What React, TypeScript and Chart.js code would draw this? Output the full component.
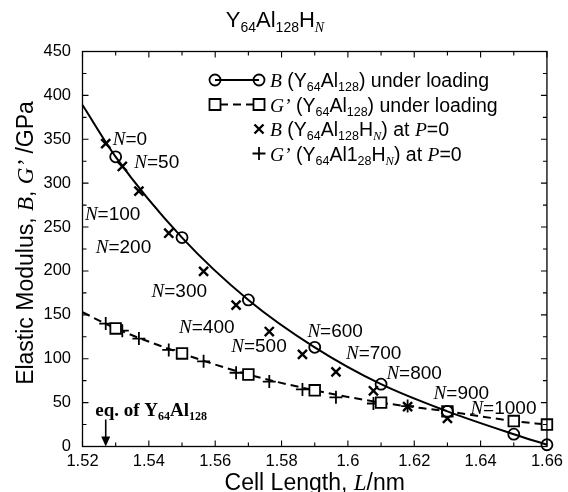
import React, { useEffect, useRef } from "react";
import { Chart, registerables } from "chart.js";

Chart.register(...registerables);

// ---- data ----
// curve under loading (Y64Al128)
const curveStartL = 1.52;
const curveStartB = 389;
const curveStartG = 153;
const loadL = [1.53, 1.55, 1.57, 1.59, 1.61, 1.63, 1.65, 1.66];
const loadB = [330, 238, 167, 113, 71, 40, 14, 2];
const loadG = [134.5, 106, 82, 64, 50, 40, 29, 25];

// hydrogenated Y64Al128HN at P=0
const hN = [0, 50, 100, 200, 300, 400, 500, 600, 700, 800, 900, 1000];
const hL = [1.527, 1.532, 1.537, 1.546, 1.5565, 1.5663, 1.5763, 1.5863, 1.5964, 1.6077, 1.618, 1.63];
const hB = [345, 319, 291, 243, 199.5, 161, 131, 105, 85, 63.5, 45.5, 32];
const hG = [140, 132, 123, 110, 97, 84, 74, 65, 56, 49, 46, 38];

const eqL = 1.527;

const xTicks = [1.52, 1.54, 1.56, 1.58, 1.6, 1.62, 1.64, 1.66];
const xTickLabels = ["1.52", "1.54", "1.56", "1.58", "1.6", "1.62", "1.64", "1.66"];
const yTicks = [0, 50, 100, 150, 200, 250, 300, 350, 400, 450];
const yTickLabels = ["0", "50", "100", "150", "200", "250", "300", "350", "400", "450"];

// label offsets (pixels) for the N= annotations, relative to each B marker
const labelDx = [7, 12, -54, -73, -52, -57, -38, 5, 10, 13, 26, 23];
const labelDy = [-6, -5, 22, 13, 19, 21, 13, -24, -20, -19, -15, -11];

const SANS = '"Liberation Sans", Arial, Helvetica, sans-serif';
const SERIF = '"Liberation Serif", "Times New Roman", serif';

type Run = { t: string; font: string; dy?: number };

function drawRuns(ctx: CanvasRenderingContext2D, runs: Run[], x: number, y: number, align: "left" | "center" | "right" = "left") {
  ctx.save();
  ctx.textBaseline = "alphabetic";
  ctx.textAlign = "left";
  ctx.fillStyle = "#000";
  let total = 0;
  const widths = runs.map((r) => {
    ctx.font = r.font;
    const w = ctx.measureText(r.t).width;
    total += w;
    return w;
  });
  let cx = align === "left" ? x : align === "center" ? x - total / 2 : x - total;
  runs.forEach((r, i) => {
    ctx.font = r.font;
    ctx.fillText(r.t, cx, y + (r.dy || 0));
    cx += widths[i];
  });
  ctx.restore();
  return total;
}

function marker(ctx: CanvasRenderingContext2D, kind: string, x: number, y: number) {
  ctx.save();
  ctx.strokeStyle = "#000";
  ctx.setLineDash([]);
  ctx.beginPath();
  if (kind === "circle") {
    ctx.lineWidth = 1.8;
    ctx.arc(x, y, 5.5, 0, Math.PI * 2);
  } else if (kind === "rect") {
    ctx.lineWidth = 1.8;
    ctx.rect(x - 5.5, y - 5.5, 11, 11);
  } else if (kind === "x") {
    ctx.lineWidth = 2.4;
    ctx.moveTo(x - 4.5, y - 4.5);
    ctx.lineTo(x + 4.5, y + 4.5);
    ctx.moveTo(x - 4.5, y + 4.5);
    ctx.lineTo(x + 4.5, y - 4.5);
  } else {
    ctx.lineWidth = 1.8;
    ctx.moveTo(x - 6.5, y);
    ctx.lineTo(x + 6.5, y);
    ctx.moveTo(x, y - 6.5);
    ctx.lineTo(x, y + 6.5);
  }
  ctx.stroke();
  ctx.restore();
}

const decorPlugin = {
  id: "decor",
  afterDraw(chart: any) {
    const ctx: CanvasRenderingContext2D = chart.ctx;
    const { left, right, top, bottom } = chart.chartArea;
    const xs = chart.scales.x;
    const ys = chart.scales.y;

    // frame
    ctx.save();
    ctx.strokeStyle = "#000";
    ctx.lineWidth = 1.3;
    ctx.strokeRect(left, top, right - left, bottom - top);

    // ticks
    const xMinor = xTicks.slice(0, -1).map((v, i) => (v + xTicks[i + 1]) / 2);
    const yMinor = yTicks.slice(0, -1).map((v, i) => (v + yTicks[i + 1]) / 2);
    ctx.lineWidth = 1.1;
    ctx.beginPath();
    xTicks.forEach((v) => {
      const p = xs.getPixelForValue(v);
      ctx.moveTo(p, bottom); ctx.lineTo(p, bottom - 6);
      ctx.moveTo(p, top); ctx.lineTo(p, top + 6);
    });
    xMinor.forEach((v) => {
      const p = xs.getPixelForValue(v);
      ctx.moveTo(p, bottom); ctx.lineTo(p, bottom - 4);
      ctx.moveTo(p, top); ctx.lineTo(p, top + 4);
    });
    yTicks.forEach((v) => {
      const p = ys.getPixelForValue(v);
      ctx.moveTo(left, p); ctx.lineTo(left + 6, p);
      ctx.moveTo(right, p); ctx.lineTo(right - 6, p);
    });
    yMinor.forEach((v) => {
      const p = ys.getPixelForValue(v);
      ctx.moveTo(left, p); ctx.lineTo(left + 4, p);
      ctx.moveTo(right, p); ctx.lineTo(right - 4, p);
    });
    ctx.stroke();
    ctx.restore();

    // title
    drawRuns(ctx, [
      { t: "Y", font: `22px ${SANS}` },
      { t: "64", font: `14px ${SANS}`, dy: 5 },
      { t: "Al", font: `22px ${SANS}` },
      { t: "128", font: `14px ${SANS}`, dy: 5 },
      { t: "H", font: `22px ${SANS}` },
      { t: "N", font: `italic 14px ${SERIF}`, dy: 5 },
    ], 275, 27, "center");

    // x title
    drawRuns(ctx, [
      { t: "Cell Length, ", font: `23px ${SANS}` },
      { t: "L", font: `italic 23px ${SERIF}` },
      { t: "/nm", font: `23px ${SANS}` },
    ], (left + right) / 2, 490, "center");

    // y title
    ctx.save();
    ctx.translate(33, (top + bottom) / 2 - 6);
    ctx.rotate(-Math.PI / 2);
    drawRuns(ctx, [
      { t: "Elastic Modulus, ", font: `23px ${SANS}` },
      { t: "B", font: `italic 23px ${SERIF}` },
      { t: ", ", font: `23px ${SANS}` },
      { t: "G\u2019", font: `italic 23px ${SERIF}` },
      { t: " /GPa", font: `23px ${SANS}` },
    ], 0, 0, "center");
    ctx.restore();

    // legend
    const lx1 = 215, lx2 = 259, tx = 270;
    const rows = [80, 104.5, 129, 153.5];
    const fs = 19.5;
    const sub = 12.5;
    ctx.save();
    ctx.strokeStyle = "#000";
    ctx.lineWidth = 2;
    ctx.beginPath();
    ctx.moveTo(lx1, rows[0]); ctx.lineTo(lx2, rows[0]);
    ctx.stroke();
    ctx.setLineDash([8, 5]);
    ctx.beginPath();
    ctx.moveTo(lx1 + 5, rows[1]); ctx.lineTo(lx2, rows[1]);
    ctx.stroke();
    ctx.restore();
    marker(ctx, "circle", lx1, rows[0]);
    marker(ctx, "circle", lx2, rows[0]);
    marker(ctx, "rect", lx1, rows[1]);
    marker(ctx, "rect", lx2, rows[1]);
    marker(ctx, "x", lx2, rows[2]);
    marker(ctx, "plus", lx2, rows[3]);
    const S = `${fs}px ${SANS}`;
    const I = `italic ${fs}px ${SERIF}`;
    const SS = `${sub}px ${SANS}`;
    const SI = `italic ${sub}px ${SERIF}`;
    const bl = 7;
    drawRuns(ctx, [
      { t: "B", font: I }, { t: " (Y", font: S }, { t: "64", font: SS, dy: 4 }, { t: "Al", font: S },
      { t: "128", font: SS, dy: 4 }, { t: ") under loading", font: S },
    ], tx, rows[0] + bl);
    drawRuns(ctx, [
      { t: "G\u2019", font: I }, { t: " (Y", font: S }, { t: "64", font: SS, dy: 4 }, { t: "Al", font: S },
      { t: "128", font: SS, dy: 4 }, { t: ") under loading", font: S },
    ], tx, rows[1] + bl);
    drawRuns(ctx, [
      { t: "B", font: I }, { t: " (Y", font: S }, { t: "64", font: SS, dy: 4 }, { t: "Al", font: S },
      { t: "128", font: SS, dy: 4 }, { t: "H", font: S }, { t: "N", font: SI, dy: 4 },
      { t: ") at ", font: S }, { t: "P", font: I }, { t: "=0", font: S },
    ], tx, rows[2] + bl);
    drawRuns(ctx, [
      { t: "G\u2019", font: I }, { t: " (Y", font: S }, { t: "64", font: SS, dy: 4 }, { t: "Al1", font: S },
      { t: "28", font: SS, dy: 4 }, { t: "H", font: S }, { t: "N", font: SI, dy: 4 },
      { t: ") at ", font: S }, { t: "P", font: I }, { t: "=0", font: S },
    ], tx, rows[3] + bl);

    // N= labels
    hN.forEach((n, i) => {
      const px = xs.getPixelForValue(hL[i]) + labelDx[i];
      const py = ys.getPixelForValue(hB[i]) + labelDy[i];
      drawRuns(ctx, [
        { t: "N", font: `italic 19px ${SERIF}` },
        { t: "=" + n, font: `19px ${SANS}` },
      ], px, py + 7);
    });

    // equilibrium arrow
    const ax = xs.getPixelForValue(eqL);
    ctx.save();
    ctx.strokeStyle = "#000";
    ctx.fillStyle = "#000";
    ctx.lineWidth = 1.6;
    ctx.beginPath();
    ctx.moveTo(ax, bottom - 27);
    ctx.lineTo(ax, bottom - 8);
    ctx.stroke();
    ctx.beginPath();
    ctx.moveTo(ax - 4.5, bottom - 10);
    ctx.lineTo(ax + 4.5, bottom - 10);
    ctx.lineTo(ax, bottom);
    ctx.closePath();
    ctx.fill();
    ctx.restore();
    drawRuns(ctx, [
      { t: "eq. of Y", font: `bold 19px ${SERIF}` },
      { t: "64", font: `bold 12px ${SERIF}`, dy: 4 },
      { t: "Al", font: `bold 19px ${SERIF}` },
      { t: "128", font: `bold 12px ${SERIF}`, dy: 4 },
    ], ax - 10.5, bottom - 31);
  },
};

export default function App() {
  const canvasRef = useRef<HTMLCanvasElement | null>(null);

  useEffect(() => {
    document.body.style.margin = "0";
    const canvas = canvasRef.current;
    if (!canvas) return;

    const bLine = [{ x: curveStartL, y: curveStartB }, ...loadL.map((l, i) => ({ x: l, y: loadB[i] }))];
    const gLine = [{ x: curveStartL, y: curveStartG }, ...loadL.map((l, i) => ({ x: l, y: loadG[i] }))];
    const hBPts = hL.map((l, i) => ({ x: l, y: hB[i] }));
    const hGPts = hL.map((l, i) => ({ x: l, y: hG[i] }));

    const chart = new Chart(canvas, {
      type: "line",
      data: {
        datasets: [
          {
            label: "B under loading",
            data: bLine,
            borderColor: "#000",
            borderWidth: 2,
            cubicInterpolationMode: "monotone",
            pointStyle: "circle",
            pointRadius: (c: any) => (c.dataIndex === 0 ? 0 : 5.5),
            pointBorderWidth: 1.8,
            pointBorderColor: "#000",
            pointBackgroundColor: "rgba(0,0,0,0)",
            clip: false,
          } as any,
          {
            label: "G under loading",
            data: gLine,
            borderColor: "#000",
            borderWidth: 2,
            borderDash: [8, 5],
            cubicInterpolationMode: "monotone",
            pointStyle: "rect",
            pointRadius: (c: any) => (c.dataIndex === 0 ? 0 : 7.5),
            pointBorderWidth: 1.8,
            pointBorderColor: "#000",
            pointBackgroundColor: "#fff",
            clip: false,
          } as any,
          {
            label: "B hydrogenated",
            data: hBPts,
            showLine: false,
            pointStyle: "crossRot",
            pointRadius: 6.4,
            pointBorderWidth: 2.4,
            pointBorderColor: "#000",
            borderColor: "#000",
            clip: false,
          } as any,
          {
            label: "G hydrogenated",
            data: hGPts,
            showLine: false,
            pointStyle: "cross",
            pointRadius: 6.5,
            pointBorderWidth: 1.8,
            pointBorderColor: "#000",
            borderColor: "#000",
            clip: false,
          } as any,
        ],
      },
      options: {
        animation: false,
        responsive: true,
        maintainAspectRatio: false,
        devicePixelRatio: 1,
        layout: { padding: { top: 51.5, right: 18, left: 0, bottom: 0 } },
        plugins: {
          legend: { display: false },
          title: { display: false },
          tooltip: { enabled: false },
        },
        scales: {
          x: {
            type: "linear",
            min: 1.52,
            max: 1.66,
            grid: { display: false, drawTicks: false },
            border: { display: false },
            afterBuildTicks: (s: any) => {
              s.ticks = xTicks.map((v) => ({ value: v }));
            },
            afterFit: (s: any) => {
              s.height = 45.5;
            },
            ticks: {
              padding: 5,
              autoSkip: false,
              maxRotation: 0,
              color: "#000",
              font: { family: SANS, size: 16.5 },
              callback: (_v: any, i: number) => xTickLabels[i],
            },
          },
          y: {
            type: "linear",
            min: 0,
            max: 450,
            grid: { display: false, drawTicks: false },
            border: { display: false },
            afterBuildTicks: (s: any) => {
              s.ticks = yTicks.map((v) => ({ value: v }));
            },
            afterFit: (s: any) => {
              s.width = 82.5;
            },
            ticks: {
              padding: 11.5,
              autoSkip: false,
              color: "#000",
              font: { family: SANS, size: 16.5 },
              callback: (_v: any, i: number) => yTickLabels[i],
            },
          },
        },
      } as any,
      plugins: [decorPlugin],
    });

    return () => chart.destroy();
  }, []);

  return (
    <div style={{ position: "fixed", left: 0, top: 0, width: 568, height: 492, background: "#fff" }}>
      <canvas ref={canvasRef} />
    </div>
  );
}
